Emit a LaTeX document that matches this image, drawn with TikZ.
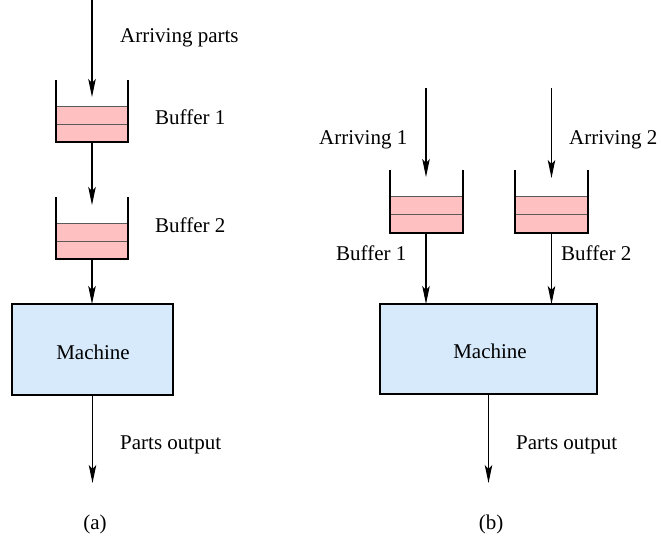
\documentclass[tikz,border=0pt]{standalone}
\usepackage{fontspec}
\setmainfont{Liberation Serif}
\usetikzlibrary{arrows.meta}
\definecolor{bufpink}{RGB}{255,192,194}
\definecolor{machblue}{RGB}{214,234,252}
\definecolor{innergray}{RGB}{90,90,90}
\tikzset{
  flow/.style={line width=1.1pt,-{Stealth[length=18pt,width=7.5pt,inset=4pt]}},
  bufbox/.style={minimum width=72pt,minimum height=62pt,inner sep=0pt,outer sep=0pt},
  machbox/.style={draw,line width=2.2pt,fill=machblue,inner sep=0pt,outer sep=0pt},
  lbl/.style={inner sep=0pt,font=\fontsize{21}{25}\selectfont},
}
\newcommand{\drawbuffer}[1]{%
  \fill[bufpink] ([yshift=36pt]#1.south west) rectangle (#1.south east);
  \draw[innergray,line width=1pt] ([yshift=36pt]#1.south west) -- ([yshift=36pt]#1.south east);
  \draw[innergray,line width=1pt] ([yshift=18pt]#1.south west) -- ([yshift=18pt]#1.south east);
  \draw[line width=2pt] (#1.north west) -- (#1.south west) -- (#1.south east) -- (#1.north east);
}
\begin{document}
\begin{tikzpicture}[x=1pt,y=-1pt]
\useasboundingbox (0,0) rectangle (661,540);
% ---------- (a) ----------
\coordinate (ain) at (92,0);
\node[bufbox] (a1) at (92,111.5) {};
\node[bufbox] (a2) at (92,228) {};
\drawbuffer{a1}
\drawbuffer{a2}
\coordinate (a1in) at (92,97);
\coordinate (a2in) at (92,205);
\node[machbox,minimum width=161pt,minimum height=91pt] (am) at (92.5,349.5) {};
\coordinate (aout) at (92.5,483);
\draw[flow] (ain) -- (a1in);
\draw[flow] (a1.south) -- (a2in);
\draw[flow] (a2.south) -- (a2.south |- am.north);
\draw[flow] (am.south) -- (aout);
\node[lbl,anchor=base west] (tArr) at (120,43) {Arriving parts};
\node[lbl,anchor=base west] (tB1a) at (155,125) {Buffer 1};
\node[lbl,anchor=base west] (tB2a) at (155,233) {Buffer 2};
\node[lbl,anchor=base] (tMa) at (93,359) {Machine};
\node[lbl,anchor=base west] (tOa) at (120,449) {Parts output};
\node[lbl,anchor=base] (tA) at (95,529) {(a)};
% ---------- (b) ----------
\coordinate (b1top) at (426,88);
\coordinate (b2top) at (551.5,88);
\node[bufbox,minimum width=73pt,minimum height=63pt] (b1) at (426,201.5) {};
\node[bufbox,minimum width=73pt,minimum height=63pt] (b2) at (551.5,201.5) {};
\drawbuffer{b1}
\drawbuffer{b2}
\coordinate (b1in) at (426,177);
\coordinate (b2in) at (551.5,178);
\node[machbox,minimum width=217pt,minimum height=90pt] (bm) at (488.5,349) {};
\coordinate (bout) at (488.5,483);
\draw[flow] (b1top) -- (b1in);
\draw[flow] (b2top) -- (b2in);
\draw[flow] (b1.south) -- (b1.south |- bm.north);
\draw[flow] (b2.south) -- (b2.south |- bm.north);
\draw[flow] (bm.south) -- (bout);
\node[lbl,anchor=base west] (tA1) at (319,145) {Arriving 1};
\node[lbl,anchor=base west] (tA2) at (569,145) {Arriving 2};
\node[lbl,anchor=base west] (tB1b) at (336,260) {Buffer 1};
\node[lbl,anchor=base west] (tB2b) at (561,260) {Buffer 2};
\node[lbl,anchor=base] (tMb) at (490,358) {Machine};
\node[lbl,anchor=base west] (tOb) at (516,449) {Parts output};
\node[lbl,anchor=base] (tB) at (491,529) {(b)};
\end{tikzpicture}
\end{document}
